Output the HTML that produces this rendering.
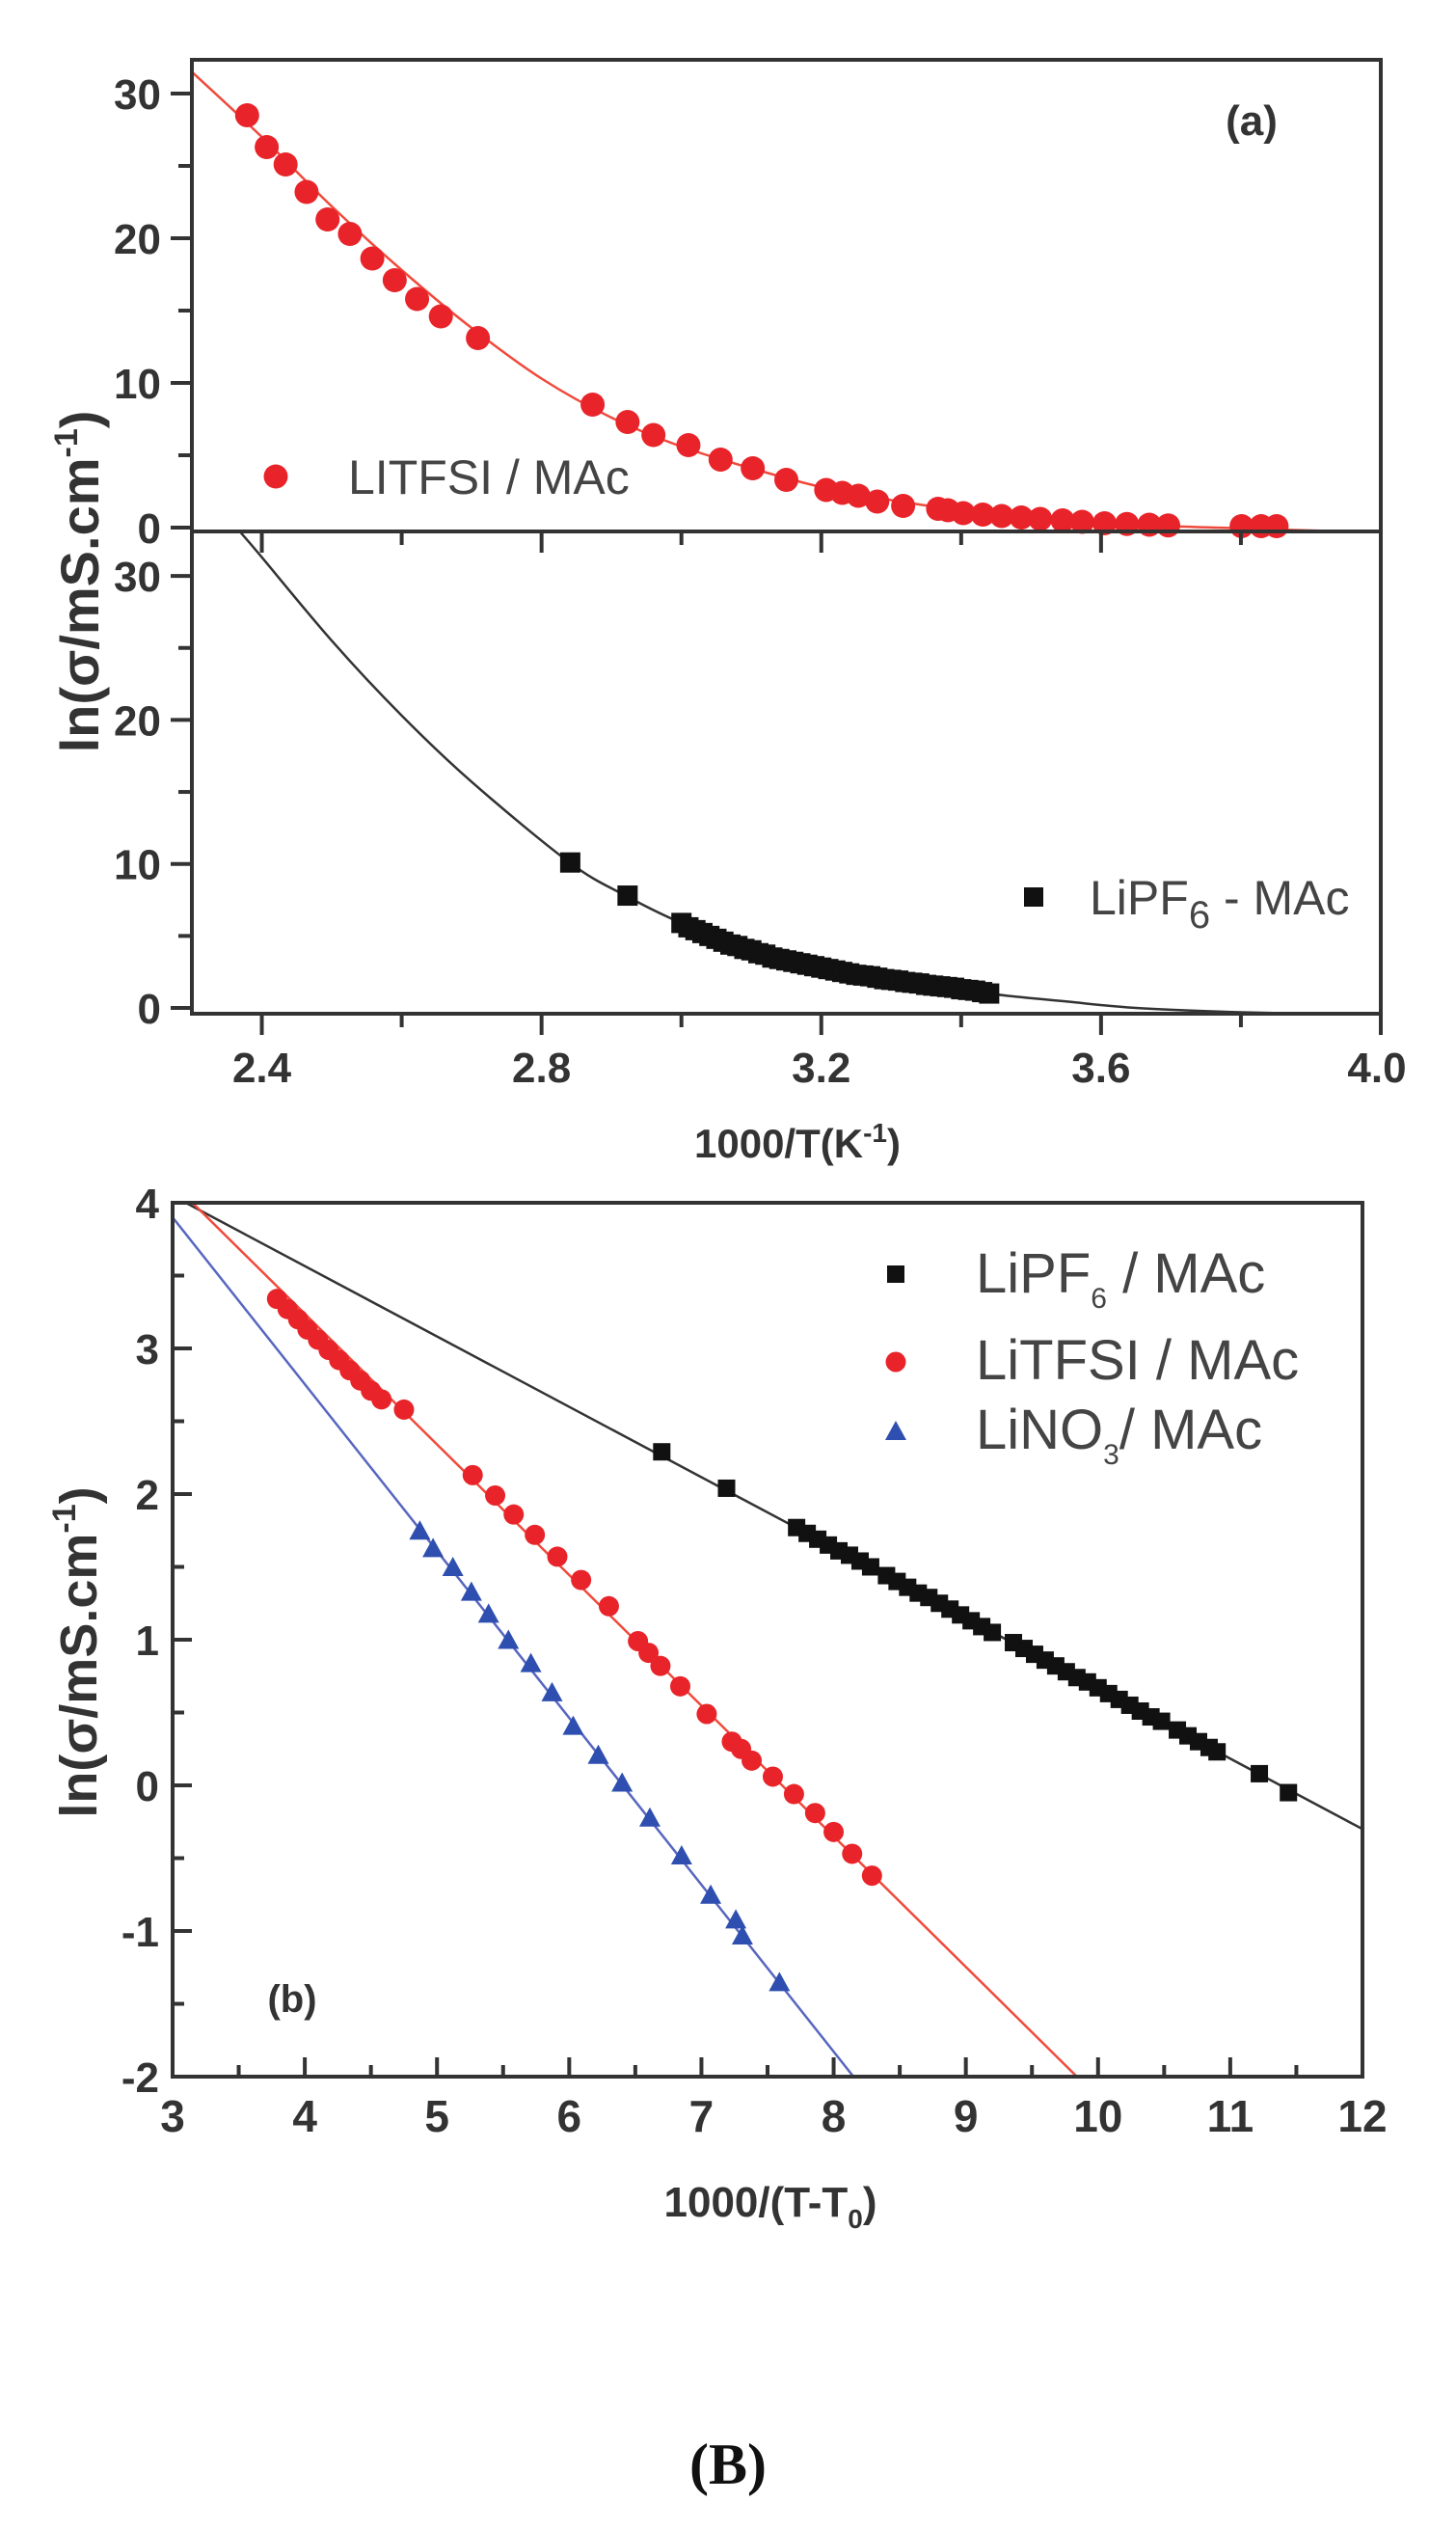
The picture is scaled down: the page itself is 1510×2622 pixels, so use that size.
<!DOCTYPE html>
<html><head><meta charset="utf-8"><style>
html,body{margin:0;padding:0;background:#fff;}
svg{display:block;font-family:"Liberation Sans",Arial,sans-serif;}
</style></head><body>
<svg id="fig" width="1510" height="2622" viewBox="0 0 1510 2622" xmlns="http://www.w3.org/2000/svg">
<g id="gA"></g><g id="gB"></g>
<text x="755" y="2575" text-anchor="middle" font-family="Liberation Serif,serif" font-size="60" font-weight="bold" fill="#111">(B)</text>
</svg>
<script>
// ---- Panel (a) data ----
const redAX=[2.379,2.407,2.434,2.464,2.494,2.526,2.558,2.590,2.622,2.656,2.709,2.873,2.923,2.960,3.010,3.056,3.102,3.150,3.207,3.230,3.253,3.280,3.317,3.367,3.381,3.403,3.431,3.458,3.486,3.513,3.545,3.573,3.605,3.637,3.669,3.696,3.801,3.829,3.851];
const redAY=[28.5,26.3,25.1,23.2,21.3,20.3,18.6,17.1,15.8,14.6,13.1,8.5,7.3,6.4,5.7,4.7,4.1,3.3,2.6,2.4,2.2,1.8,1.5,1.3,1.2,1.0,0.9,0.8,0.7,0.6,0.5,0.4,0.3,0.25,0.2,0.15,0.1,0.1,0.1];
const redFitX=[2.3,2.4,2.5,2.6,2.7,2.8,2.9,3.0,3.1,3.2,3.3,3.4,3.5,3.6,3.7,3.8,3.9,4.0];
const redFitY=[31.5,27.0,22.2,17.8,13.8,10.3,7.6,5.6,4.1,2.8,1.9,1.2,0.7,0.35,0.1,-0.05,-0.2,-0.3];
const blkAX=[2.841,2.923,3.00,3.01,3.02,3.03,3.04,3.05,3.06,3.07,3.08,3.09,3.10,3.11,3.12,3.13,3.14,3.15,3.16,3.17,3.18,3.19,3.20,3.21,3.22,3.23,3.24,3.25,3.26,3.27,3.28,3.29,3.30,3.31,3.32,3.33,3.34,3.35,3.36,3.37,3.38,3.39,3.40,3.41,3.42,3.43,3.44];
const blkAY=[10.1,7.8,5.9,5.6,5.4,5.2,5.0,4.8,4.6,4.4,4.3,4.1,4.0,3.8,3.7,3.5,3.4,3.3,3.2,3.1,3.0,2.9,2.8,2.7,2.6,2.5,2.4,2.3,2.25,2.2,2.1,2.0,1.95,1.9,1.8,1.75,1.7,1.6,1.55,1.5,1.45,1.4,1.3,1.25,1.2,1.1,1.0];
const blkFitX=[2.37,2.4,2.5,2.6,2.7,2.84,2.92,3.0,3.1,3.2,3.3,3.44,3.55,3.65,3.8,4.0];
const blkFitY=[33.0,31.3,25.5,20.3,15.7,10.1,7.8,5.9,4.1,2.9,2.0,1.0,0.45,0.0,-0.3,-0.5];
const aXTicks=[2.4,2.8,3.2,3.6,4.0];
const aXTickLabels=["2.4","2.8","3.2","3.6","4.0"];
const aYTicks=[0,10,20,30];
// ---- Panel (b) data ----
const bBlkX=[6.70,7.19,7.72,7.80,7.88,7.96,8.04,8.12,8.20,8.28,8.40,8.48,8.56,8.64,8.72,8.80,8.88,8.96,9.04,9.12,9.20,9.36,9.44,9.52,9.60,9.68,9.76,9.84,9.92,10.00,10.08,10.16,10.24,10.32,10.40,10.48,10.60,10.68,10.76,10.84,10.90,11.22,11.44];
const bBlkY=[2.29,2.04,1.77,1.73,1.69,1.65,1.61,1.58,1.54,1.50,1.44,1.40,1.36,1.32,1.29,1.25,1.21,1.17,1.13,1.09,1.05,0.98,0.94,0.90,0.86,0.82,0.78,0.74,0.71,0.67,0.63,0.59,0.55,0.51,0.47,0.44,0.38,0.34,0.30,0.26,0.23,0.08,-0.05];
const bRedX=[3.79,3.87,3.95,4.02,4.10,4.18,4.26,4.34,4.42,4.50,4.58,4.75,5.27,5.44,5.58,5.74,5.91,6.09,6.30,6.52,6.60,6.69,6.84,7.04,7.23,7.30,7.38,7.54,7.70,7.86,8.00,8.14,8.29];
const bRedY=[3.34,3.27,3.20,3.13,3.06,2.99,2.92,2.85,2.78,2.71,2.65,2.58,2.13,1.99,1.86,1.72,1.57,1.41,1.23,0.99,0.91,0.82,0.68,0.49,0.30,0.25,0.17,0.06,-0.06,-0.19,-0.32,-0.47,-0.62];
const bBlueX=[4.87,4.97,5.12,5.26,5.39,5.54,5.71,5.87,6.03,6.22,6.40,6.61,6.85,7.07,7.26,7.31,7.59];
const bBlueY=[1.74,1.62,1.49,1.32,1.17,0.99,0.83,0.63,0.40,0.20,0.01,-0.23,-0.49,-0.76,-0.93,-1.04,-1.36];
const bFitBlkX=[3.1,12.0], bFitBlkY=[4.0,-0.3];
const bFitRedX=[3.15,9.84], bFitRedY=[4.0,-2.0];
const bFitBlueX=[3.0,8.15], bFitBlueY=[3.9,-2.0];
const bXTicks=[3,4,5,6,7,8,9,10,11,12];
const bYTicks=[-2,-1,0,1,2,3,4];

const NS="http://www.w3.org/2000/svg";
function mk(parent,tag,attrs,txt){const e=document.createElementNS(NS,tag);for(const k in attrs)e.setAttribute(k,attrs[k]);if(txt!==undefined)e.textContent=txt;parent.appendChild(e);return e;}
const INK="#333";

const AL=199,AR=1432,AX0=2.3,AX1=4.0;
const ax=v=>AL+(v-AX0)/(AX1-AX0)*(AR-AL);
const ayU=v=>547-15*v;
const ayL=v=>1045-14.93*v;
const gA=document.getElementById('gA');

function crPath(xs,ys,fx,fy){const P=xs.map((x,i)=>[fx(x),fy(ys[i])]);let d="M"+P[0][0].toFixed(1)+","+P[0][1].toFixed(1);
for(let i=0;i<P.length-1;i++){const p0=P[Math.max(0,i-1)],p1=P[i],p2=P[i+1],p3=P[Math.min(P.length-1,i+2)];
const c1=[p1[0]+(p2[0]-p0[0])/6,p1[1]+(p2[1]-p0[1])/6],c2=[p2[0]-(p3[0]-p1[0])/6,p2[1]-(p3[1]-p1[1])/6];
d+="C"+c1[0].toFixed(1)+","+c1[1].toFixed(1)+" "+c2[0].toFixed(1)+","+c2[1].toFixed(1)+" "+p2[0].toFixed(1)+","+p2[1].toFixed(1);}return d;}

mk(gA,'defs',{}).innerHTML='<clipPath id="clipAU"><rect x="199" y="62" width="1233" height="489"/></clipPath><clipPath id="clipAL"><rect x="199" y="551" width="1233" height="500"/></clipPath><clipPath id="clipB"><rect x="179" y="1247" width="1234" height="906"/></clipPath>';

let e=mk(gA,'path',{d:crPath(redFitX,redFitY,ax,ayU),fill:'none',stroke:'#f04a3c','stroke-width':2.5,'clip-path':'url(#clipAU)'});

redAX.forEach((x,i)=>{const c=mk(gA,'circle',{cx:ax(x),cy:ayU(redAY[i]),r:12.5,fill:'#e8242a'});
});
e=mk(gA,'path',{d:crPath(blkFitX,blkFitY,ax,ayL),fill:'none',stroke:'#333','stroke-width':2.5,'clip-path':'url(#clipAL)'});

blkAX.forEach((x,i)=>{const s=mk(gA,'rect',{x:ax(x)-10.5,y:ayL(blkAY[i])-10.5,width:21,height:21,fill:'#111'});
});

e=mk(gA,'rect',{x:AL,y:62,width:AR-AL,height:489,fill:'none',stroke:INK,'stroke-width':4});

e=mk(gA,'rect',{x:AL,y:551,width:AR-AL,height:500,fill:'none',stroke:INK,'stroke-width':4});

for(let v=0;v<=30;v+=5){const maj=v%10===0;
mk(gA,'line',{x1:AL-(maj?22:14),x2:AL,y1:ayU(v),y2:ayU(v),stroke:INK,'stroke-width':4});
mk(gA,'line',{x1:AL-(maj?22:14),x2:AL,y1:ayL(v),y2:ayL(v),stroke:INK,'stroke-width':4});}
aYTicks.forEach(v=>{let t=mk(gA,'text',{x:AL-32,y:ayU(v)+16,'text-anchor':'end','font-size':44,'font-weight':'bold',fill:INK},String(v));

t=mk(gA,'text',{x:AL-32,y:ayL(v)+16,'text-anchor':'end','font-size':44,'font-weight':'bold',fill:INK},String(v));
});
for(let k=0;k<=8;k++){const v=2.4+k*0.2;const maj=k%2===0;
mk(gA,'line',{x1:ax(v),x2:ax(v),y1:551,y2:551+(maj?22:14),stroke:INK,'stroke-width':4});
mk(gA,'line',{x1:ax(v),x2:ax(v),y1:1051,y2:1051+(maj?22:14),stroke:INK,'stroke-width':4});}
aXTicks.forEach((v,i)=>{const t=mk(gA,'text',{x:ax(v)+(i===4?-4:0),y:1122,'text-anchor':'middle','font-size':44,'font-weight':'bold',fill:INK},aXTickLabels[i]);
});
e=mk(gA,'text',{x:827,y:1200,'text-anchor':'middle','font-size':42,'font-weight':'bold',fill:INK});
e.innerHTML='1000/T(K<tspan font-size="28" dy="-16">-1</tspan><tspan dy="16">)</tspan>';

e=mk(gA,'text',{x:0,y:0,transform:'translate(102,603) rotate(-90)','text-anchor':'middle','font-size':56,'font-weight':'bold',fill:INK});
e.innerHTML='ln(σ/mS.cm<tspan font-size="34" dy="-22">-1</tspan><tspan dy="22">)</tspan>';

e=mk(gA,'text',{x:1298,y:140,'text-anchor':'middle','font-size':44,'font-weight':'bold',fill:INK},'(a)');

e=mk(gA,'circle',{cx:286,cy:494,r:12.5,fill:'#e8242a'});
e=mk(gA,'text',{x:361,y:512,'font-size':50,fill:'#444'},'LITFSI / MAc');
e=mk(gA,'rect',{x:1062,y:920,width:20,height:20,fill:'#111'});
e=mk(gA,'text',{x:1130,y:948,'font-size':50,fill:'#444'});e.innerHTML='LiPF<tspan font-size="40" dy="14">6</tspan><tspan dy="-14"> - MAc</tspan>';


// Panel B
const gB=document.getElementById('gB');
const BL=179,BR=1413,BT=1247,BB=2153;
const bx=v=>BL+(v-3)/9*(BR-BL);
const by=v=>BT+(4-v)/6*(BB-BT);
[[bFitBlkX,bFitBlkY,'#333','fit-line-lipf6'],[bFitRedX,bFitRedY,'#f04a3c','fit-line-litfsi'],[bFitBlueX,bFitBlueY,'#5866c0','fit-line-lino3']].forEach(([xs,ys,c,n])=>{
const l=mk(gB,'line',{x1:bx(xs[0]),y1:by(ys[0]),x2:bx(xs[1]),y2:by(ys[1]),stroke:c,'stroke-width':2.5,'clip-path':'url(#clipB)'});
});
bBlkX.forEach((x,i)=>{const s=mk(gB,'rect',{x:bx(x)-9,y:by(bBlkY[i])-9,width:18,height:18,fill:'#111'});
});
bRedX.forEach((x,i)=>{const c=mk(gB,'circle',{cx:bx(x),cy:by(bRedY[i]),r:10.5,fill:'#e8242a'});
});
bBlueX.forEach((x,i)=>{const cx=bx(x),cy=by(bBlueY[i]);const p=mk(gB,'polygon',{points:`${cx},${cy-12} ${cx-11},${cy+8} ${cx+11},${cy+8}`,fill:'#2f4fb0'});
});
e=mk(gB,'rect',{x:BL,y:BT,width:BR-BL,height:BB-BT,fill:'none',stroke:INK,'stroke-width':4});

for(let v=3;v<=12;v+=0.5){const maj=Number.isInteger(v);mk(gB,'line',{x1:bx(v),x2:bx(v),y1:BB,y2:BB-(maj?20:12),stroke:INK,'stroke-width':4});}
for(let v=-2;v<=4;v+=0.5){const maj=Number.isInteger(v);mk(gB,'line',{x1:BL,x2:BL+(maj?20:12),y1:by(v),y2:by(v),stroke:INK,'stroke-width':4});}
bXTicks.forEach(v=>{const t=mk(gB,'text',{x:bx(v),y:2210,'text-anchor':'middle','font-size':46,'font-weight':'bold',fill:INK},String(v));
});
bYTicks.forEach(v=>{const t=mk(gB,'text',{x:BL-14,y:by(v)+16,'text-anchor':'end','font-size':44,'font-weight':'bold',fill:INK},String(v));
});
e=mk(gB,'text',{x:799,y:2298,'text-anchor':'middle','font-size':44,'font-weight':'bold',fill:INK});
e.innerHTML='1000/(T-T<tspan font-size="28" dy="12">0</tspan><tspan dy="-12">)</tspan>';

e=mk(gB,'text',{x:0,y:0,transform:'translate(100,1713) rotate(-90)','text-anchor':'middle','font-size':54,'font-weight':'bold',fill:INK});
e.innerHTML='ln(σ/mS.cm<tspan font-size="34" dy="-22">-1</tspan><tspan dy="22">)</tspan>';

e=mk(gB,'text',{x:303,y:2086,'text-anchor':'middle','font-size':40,'font-weight':'bold',fill:INK},'(b)');

e=mk(gB,'rect',{x:920,y:1312,width:18,height:18,fill:'#111'});
e=mk(gB,'circle',{cx:929,cy:1412,r:10.5,fill:'#e8242a'});
e=mk(gB,'polygon',{points:'929,1473 918,1493 940,1493',fill:'#2f4fb0'});
e=mk(gB,'text',{x:1012,y:1340,'font-size':58,fill:'#444'});e.innerHTML='LiPF<tspan font-size="30" dy="16">6</tspan><tspan dy="-16"> / MAc</tspan>';

e=mk(gB,'text',{x:1012,y:1430,'font-size':58,fill:'#444'},'LiTFSI / MAc');

e=mk(gB,'text',{x:1012,y:1502,'font-size':58,fill:'#444'});e.innerHTML='LiNO<tspan font-size="30" dy="16">3</tspan><tspan dy="-16">/ MAc</tspan>';

</script>
</body></html>
